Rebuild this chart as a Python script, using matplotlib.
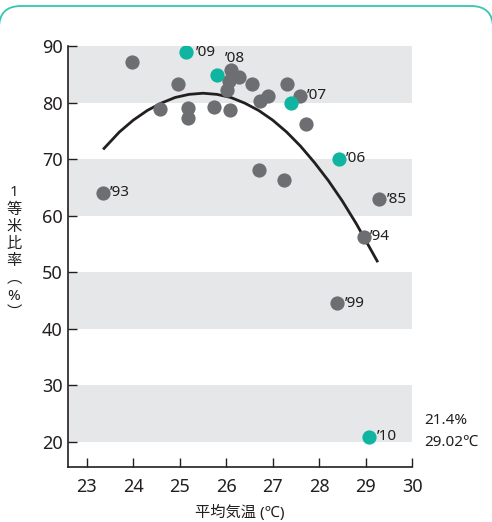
import matplotlib.pyplot as plt
import matplotlib.patches as mpatches
from matplotlib.transforms import IdentityTransform

plt.rcParams['font.family'] = ['Noto Sans', 'Noto Sans CJK JP', 'DejaVu Sans']

GRAY = "#6d6e71"
TEAL = "#0fb5a0"
BAND = "#e6e7e8"
INK = "#231f20"

# 平均気温 (℃) / 1等米比率 (%)
gray_x = [23.97, 24.97, 24.58, 25.18, 25.18, 25.74, 26.09, 26.10, 26.28, 26.07, 26.01,
          26.55, 26.90, 26.73, 27.30, 27.59, 27.72, 26.70, 27.25, 23.34, 29.30, 28.97, 28.38]
gray_y = [87.2, 83.3, 78.9, 79.0, 77.3, 79.3, 78.7, 85.8, 84.6, 83.9, 82.3,
          83.2, 81.2, 80.2, 83.2, 81.2, 76.3, 68.0, 66.3, 64.1, 62.9, 56.3, 44.5]
teal_x = [25.13, 25.80, 27.39, 28.42, 29.07]
teal_y = [88.9, 84.8, 79.9, 70.1, 20.9]

# labelled years
year_labels = ["’09", "’08", "’07", "’06", "’85", "’94", "’93", "’99", "’10"]
year_x = [25.13, 26.10, 27.59, 28.42, 29.30, 28.97, 23.34, 28.38, 29.07]
year_y = [88.9, 85.8, 81.2, 70.1, 62.9, 56.3, 64.1, 44.5, 20.9]
year_offsets = [(7, 0), (-4, 8), (5, 0), (5, 0), (5, 0), (4, 0), (5, 0), (6, 0), (6, 0)]

# trend curve
curve_x = [23.37, 23.7, 24.0, 24.3, 24.6, 24.9, 25.2, 25.5, 25.8, 26.1, 26.4,
           26.7, 27.0, 27.3, 27.6, 27.9, 28.2, 28.5, 28.8, 29.1, 29.25]
curve_y = [71.9, 74.8, 76.9, 78.6, 79.9, 80.9, 81.45, 81.65, 81.45, 80.9, 79.9,
           78.6, 76.9, 74.8, 72.3, 69.4, 66.2, 62.6, 58.6, 54.2, 52.0]

bands = [(80, 90), (60, 70), (40, 50), (20, 30)]
x_ticks = [23, 24, 25, 26, 27, 28, 29, 30]
y_ticks = [20, 30, 40, 50, 60, 70, 80, 90]

fig = plt.figure(figsize=(4.92, 5.22), dpi=100)
ax = fig.add_axes([0.1388, 0.1054, 0.6986, 0.8065])

for lo, hi in bands:
    ax.axhspan(lo, hi, color=BAND, lw=0, zorder=0)

ax.plot(curve_x, curve_y, color=INK, lw=2.0, zorder=2, solid_joinstyle="round")
ax.scatter(gray_x, gray_y, s=105, color=GRAY, lw=0, zorder=3)
ax.scatter(teal_x, teal_y, s=105, color=TEAL, lw=0, zorder=4)

for lab, x, y, off in zip(year_labels, year_x, year_y, year_offsets):
    ax.annotate(lab, (x, y), xytext=off, textcoords="offset points",
                ha="left", va="center", fontsize=11, color=INK, zorder=5)

ax.set_xlim(22.6, 30)
ax.set_ylim(15.6, 90)
ax.set_xticks(x_ticks)
ax.set_yticks(y_ticks)
ax.tick_params(axis="both", direction="in", length=6.5, width=1.0, color=INK,
               labelsize=13, labelcolor=INK)
ax.tick_params(axis="x", pad=8)
ax.tick_params(axis="y", pad=4)
for side in ["top", "right"]:
    ax.spines[side].set_visible(False)
for side in ["left", "bottom"]:
    ax.spines[side].set_color(INK)
    ax.spines[side].set_linewidth(1.2)

ax.set_xlabel("平均気温 (℃)", fontsize=11, color=INK, labelpad=6)

fig.text(0.028, 0.515, "1\n等\n米\n比\n率\n︵\n%\n︶", fontsize=11, color=INK,
         ha="center", va="center", linespacing=1.2)

fig.text(0.862, 0.195, "21.4%", fontsize=11, color=INK, ha="left", va="center")
fig.text(0.862, 0.153, "29.02℃", fontsize=11, color=INK, ha="left", va="center")

border = mpatches.FancyBboxPatch((-1, -40), 494, 556,
                                 boxstyle="round,pad=0,rounding_size=22",
                                 transform=IdentityTransform(),
                                 fill=False, edgecolor="#35c6b2", lw=1.3)
fig.add_artist(border)

fig.savefig("out.png", dpi=100)
